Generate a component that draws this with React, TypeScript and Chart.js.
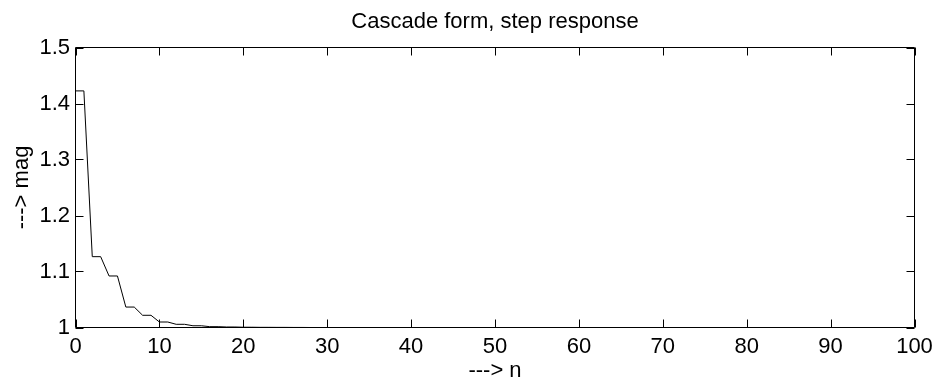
import React, { useEffect, useRef } from "react";
import { Chart, registerables } from "chart.js";

Chart.register(...registerables);

const TITLE = "Cascade form, step response";
const X_LABEL = "---> n";
const Y_LABEL = "---> mag";

const nValues = [
  0, 1, 2, 3, 4, 5, 6, 7, 8, 9, 10, 11, 12, 13, 14, 15, 16, 17, 18, 19, 20,
  21, 22, 23, 24, 25, 26, 27, 28, 29, 30, 31, 32, 33, 34, 35, 36, 37, 38, 39, 40,
  41, 42, 43, 44, 45, 46, 47, 48, 49, 50, 51, 52, 53, 54, 55, 56, 57, 58, 59, 60,
  61, 62, 63, 64, 65, 66, 67, 68, 69, 70, 71, 72, 73, 74, 75, 76, 77, 78, 79, 80,
  81, 82, 83, 84, 85, 86, 87, 88, 89, 90, 91, 92, 93, 94, 95, 96, 97, 98, 99, 100,
];

const magValues = [
  1.4225, 1.4225, 1.1265, 1.1265, 1.092, 1.092, 1.0365, 1.0365, 1.0218, 1.0218,
  1.0098, 1.0098, 1.0057, 1.0057, 1.0031, 1.0031, 1.0015, 1.0015, 1.0009, 1.0009,
  1.0005, 1.0005, 1.0003, 1.0003, 1.0002, 1.0002, 1.0001, 1.0001, 1.0, 1.0,
  1.0, 1.0, 1.0, 1.0, 1.0, 1.0, 1.0, 1.0, 1.0, 1.0,
  1.0, 1.0, 1.0, 1.0, 1.0, 1.0, 1.0, 1.0, 1.0, 1.0,
  1.0, 1.0, 1.0, 1.0, 1.0, 1.0, 1.0, 1.0, 1.0, 1.0,
  1.0, 1.0, 1.0, 1.0, 1.0, 1.0, 1.0, 1.0, 1.0, 1.0,
  1.0, 1.0, 1.0, 1.0, 1.0, 1.0, 1.0, 1.0, 1.0, 1.0,
  1.0, 1.0, 1.0, 1.0, 1.0, 1.0, 1.0, 1.0, 1.0, 1.0,
  1.0, 1.0, 1.0, 1.0, 1.0, 1.0, 1.0, 1.0, 1.0, 1.0,
  1.0,
];

const X_MIN = 0;
const X_MAX = 100;
const X_STEP = 10;
const Y_MIN = 1;
const Y_MAX = 1.5;
const Y_STEP = 0.1;

const FONT = "'Liberation Sans', Arial, Helvetica, sans-serif";
const FS = 22;

const boxTicksPlugin = {
  id: "boxTicks",
  afterDraw(chart: any) {
    const { ctx, chartArea } = chart;
    const { left, right, top, bottom } = chartArea;
    const xs = chart.scales.x;
    const ys = chart.scales.y;
    const len = 8;
    ctx.save();
    ctx.strokeStyle = "#000";
    ctx.lineWidth = 1;
    ctx.beginPath();
    ctx.rect(left, top, right - left, bottom - top);
    xs.ticks.forEach((t: any) => {
      const px = Math.round(xs.getPixelForValue(t.value)) + 0.5;
      ctx.moveTo(px, bottom);
      ctx.lineTo(px, bottom - len);
      ctx.moveTo(px, top);
      ctx.lineTo(px, top + len);
    });
    ys.ticks.forEach((t: any) => {
      const py = Math.round(ys.getPixelForValue(t.value)) + 0.5;
      ctx.moveTo(left, py);
      ctx.lineTo(left + len, py);
      ctx.moveTo(right, py);
      ctx.lineTo(right - len, py);
    });
    ctx.stroke();
    ctx.restore();
  },
};

export default function App() {
  const canvasRef = useRef<HTMLCanvasElement>(null);

  useEffect(() => {
    document.body.style.margin = "0";
    const canvas = canvasRef.current;
    if (!canvas) return;
    const points = nValues.map((n, i) => ({ x: n, y: magValues[i] }));
    const chart = new Chart(canvas, {
      type: "line",
      data: {
        datasets: [
          {
            data: points,
            borderColor: "#000",
            borderWidth: 1,
            pointRadius: 0,
            tension: 0,
            fill: false,
          },
        ],
      },
      options: {
        animation: false,
        responsive: false,
        maintainAspectRatio: false,
        devicePixelRatio: 1,
        layout: { padding: { left: 0, right: 30.5, top: 0, bottom: 0 } },
        plugins: {
          legend: { display: false },
          tooltip: { enabled: false },
          title: {
            display: true,
            text: TITLE,
            color: "#000",
            fullSize: false,
            font: { family: FONT, size: FS, weight: "normal", lineHeight: 1.2 },
            padding: { top: 8.4, bottom: 12.7 },
          },
        },
        scales: {
          x: {
            type: "linear",
            min: X_MIN,
            max: X_MAX,
            border: { display: false },
            grid: { display: false, drawTicks: false },
            ticks: {
              stepSize: X_STEP,
              color: "#000",
              padding: 5.8,
              maxRotation: 0,
              font: { family: FONT, size: FS, lineHeight: 1.2 },
            },
            title: {
              display: true,
              text: X_LABEL,
              color: "#000",
              font: { family: FONT, size: FS, lineHeight: 1.2 },
              padding: { top: 0, bottom: 0.4 },
            },
            afterFit: (scale: any) => {
              scale.height = 57.5;
            },
          },
          y: {
            type: "linear",
            min: Y_MIN,
            max: Y_MAX,
            border: { display: false },
            grid: { display: false, drawTicks: false },
            ticks: {
              stepSize: Y_STEP,
              color: "#000",
              padding: 5.5,
              font: { family: FONT, size: FS, lineHeight: 1.2 },
              callback: (v: any) => String(Number(Number(v).toFixed(1))),
            },
            title: {
              display: true,
              text: Y_LABEL,
              color: "#000",
              font: { family: FONT, size: FS, lineHeight: 1.2 },
              padding: { top: 9.2, bottom: 0 },
            },
            afterFit: (scale: any) => {
              scale.width = 75.5;
            },
          },
        },
      },
      plugins: [boxTicksPlugin],
    });
    return () => chart.destroy();
  }, []);

  return (
    <div style={{ width: 945, height: 385, background: "#fff" }}>
      <canvas ref={canvasRef} width={945} height={385} />
    </div>
  );
}
